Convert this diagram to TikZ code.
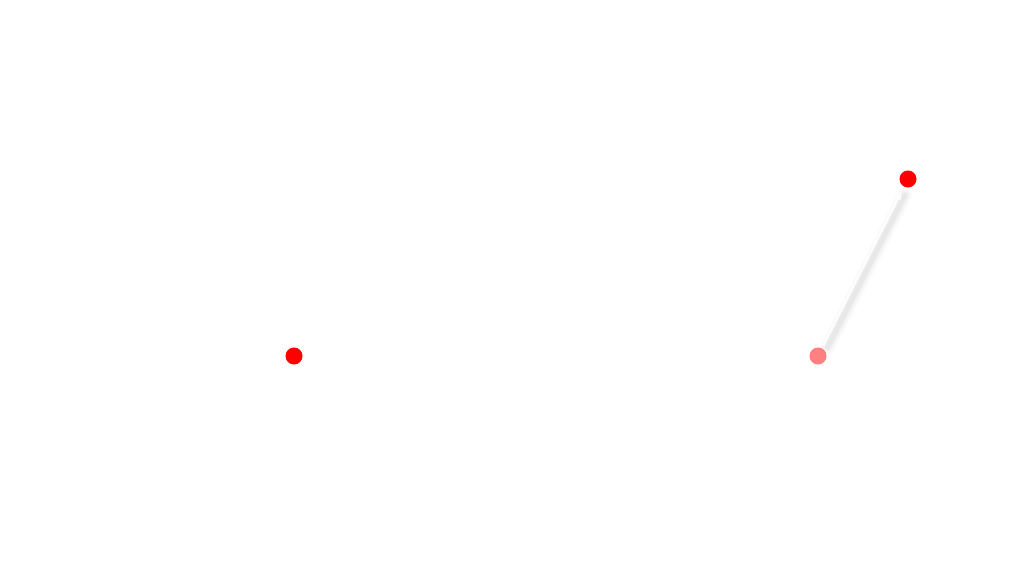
\documentclass[tikz,border=0pt]{standalone}
\usetikzlibrary{arrows.meta,calc}
\begin{document}
\begin{tikzpicture}[x=0.01cm,y=-0.01cm,
  dot/.style={circle,fill=red,inner sep=0pt,minimum size=0.17cm},
  faded/.style={dot,fill=red!50},
  shadowline/.style={line cap=round,draw=black,line width=#1}]
\useasboundingbox[fill=white] (0,0) rectangle (1024,576);
\node[dot] (l) at (294,356) {};
\node[faded] (s) at (818,356) {};
\node[dot] (t) at (908,179) {};
\coordinate (sa) at ($(s)!0.06!(t)$);
\coordinate (ta) at ($(s)!0.92!(t)$);
\foreach \w/\o in {4.2/0.015,3.2/0.02,2.2/0.025,1.4/0.03}{
  \draw[shadowline=\w pt,draw opacity=\o] ([shift={(4,2)}]sa) -- ([shift={(4,2)}]ta);
}
\draw[white,line width=0.5pt,-{Stealth[length=2pt,width=2.2pt]}] (sa) -- (ta);
\end{tikzpicture}
\end{document}
